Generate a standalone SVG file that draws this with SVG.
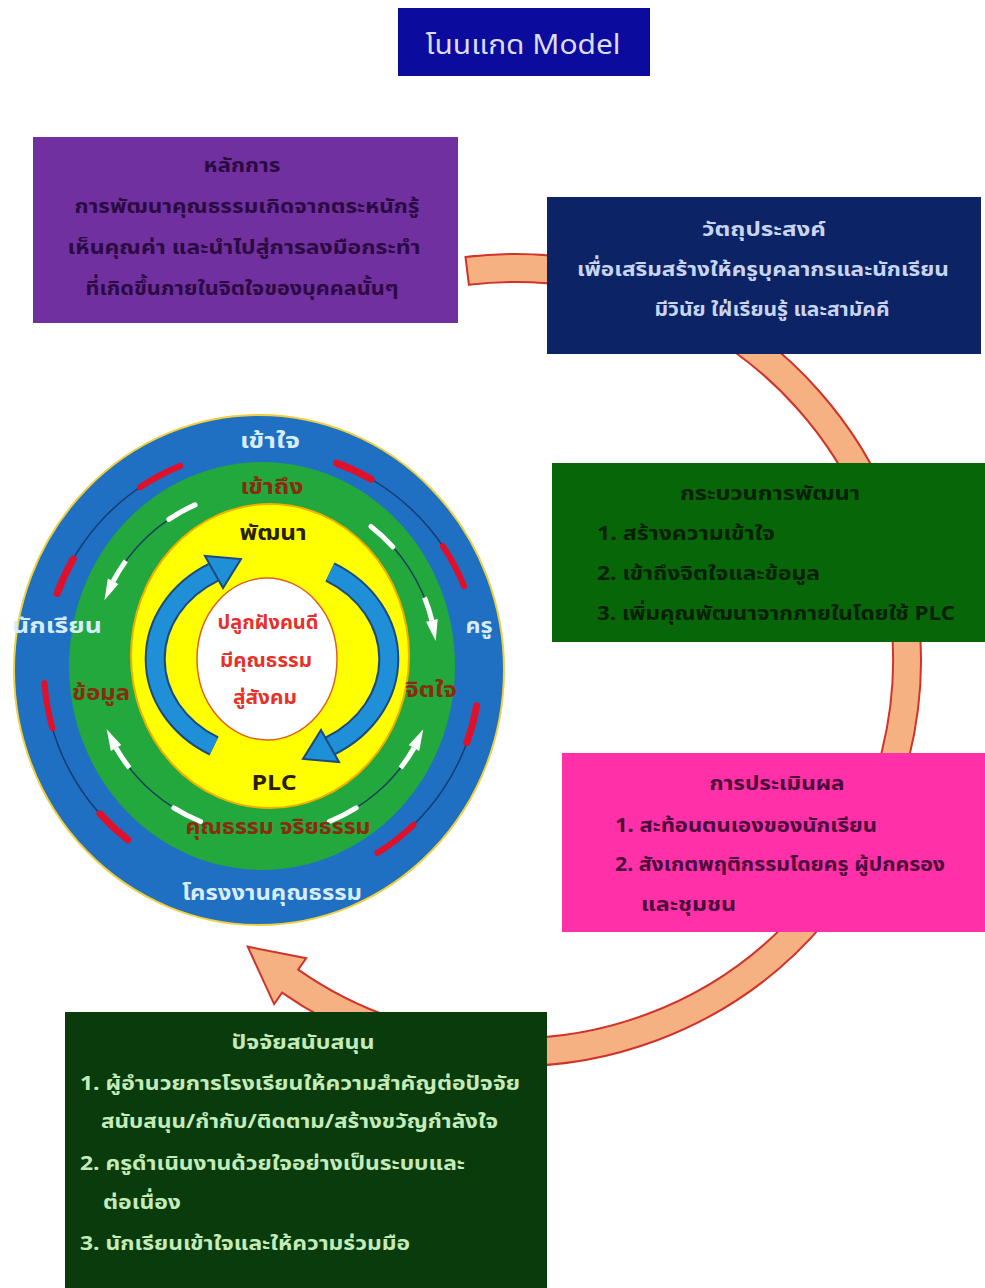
<svg xmlns="http://www.w3.org/2000/svg" width="985" height="1288" viewBox="0 0 985 1288">
<style>
text{font-family:"Noto Sans Thai","Noto Sans","DejaVu Sans",sans-serif;font-weight:bold;}
.c{text-anchor:middle;}
.bx{font-size:20px;}
.ring{font-size:22px;}
</style>
<defs>
<g id="wArrow">
<path d="M172,0 A172,172 0 0 1 135.5,105.9" fill="none" stroke="#17405a" stroke-width="1.5"/>
<path d="M172,0 A172,172 0 0 1 169.4,29.9" fill="none" stroke="#ffffff" stroke-width="5" stroke-linecap="round"/>
<path d="M149,86 A172,172 0 0 1 135.5,105.9" fill="none" stroke="#ffffff" stroke-width="5"/>
<polygon points="130.8,102.2 140.3,109.6 121.6,121.6" fill="#ffffff"/>
</g>
<g id="rArrow">
<path d="M218,0 A218,218 0 0 1 145.9,162" fill="none" stroke="#143c70" stroke-width="1.5"/>
<path d="M218,0 A218,218 0 0 1 214.7,37.9" fill="none" stroke="#e0102a" stroke-width="7" stroke-linecap="round"/>
<path d="M176.4,128.1 A218,218 0 0 1 145.9,162" fill="none" stroke="#e0102a" stroke-width="6" stroke-linecap="round"/>
</g>
</defs>

<g id="connectors">
<path d="M465.5,257 A406,406 0 1 1 282.1,992.6 L274.1,1004.1 L247.7,946.7 L306.2,958.2 L298.2,969.6 A378,378 0 1 0 468.9,284.8 Z" fill="#f6b183" stroke="#d0332a" stroke-width="2"/>
</g>

<g id="title">
<rect x="398" y="8" width="252" height="68" fill="#0b0b9e"/>
<text x="523" y="54" class="c" style="font-size:27px;font-weight:normal" fill="#dcdcff" textLength="195" lengthAdjust="spacingAndGlyphs">โนนแกด Model</text>
</g>

<g id="principle">
<rect x="33" y="137" width="425" height="186" fill="#7030a0"/>
<g class="bx c" fill="#2a0a40">
<text x="242" y="172" textLength="77" lengthAdjust="spacingAndGlyphs">หลักการ</text>
<text x="247" y="213" textLength="345" lengthAdjust="spacingAndGlyphs">การพัฒนาคุณธรรมเกิดจากตระหนักรู้</text>
<text x="244" y="254" textLength="353" lengthAdjust="spacingAndGlyphs">เห็นคุณค่า และนำไปสู่การลงมือกระทำ</text>
<text x="242" y="295" textLength="313" lengthAdjust="spacingAndGlyphs">ที่เกิดขึ้นภายในจิตใจของบุคคลนั้นๆ</text>
</g>
</g>

<g id="objective">
<rect x="547" y="197" width="434" height="157" fill="#0c2466"/>
<g class="bx c" fill="#c8d4f0">
<text x="764" y="236" textLength="124" lengthAdjust="spacingAndGlyphs">วัตถุประสงค์</text>
<text x="763" y="276" textLength="372" lengthAdjust="spacingAndGlyphs">เพื่อเสริมสร้างให้ครูบุคลากรและนักเรียน</text>
<text x="772" y="316" textLength="235" lengthAdjust="spacingAndGlyphs">มีวินัย ใฝ่เรียนรู้ และสามัคคี</text>
</g>
</g>

<g id="process">
<rect x="552" y="463" width="433" height="179" fill="#076607"/>
<g class="bx" fill="#062006">
<text x="770" y="500" class="c" textLength="180" lengthAdjust="spacingAndGlyphs">กระบวนการพัฒนา</text>
<text x="597" y="540" textLength="178" lengthAdjust="spacingAndGlyphs">1. สร้างความเข้าใจ</text>
<text x="597" y="580" textLength="223" lengthAdjust="spacingAndGlyphs">2. เข้าถึงจิตใจและข้อมูล</text>
<text x="597" y="620" textLength="358" lengthAdjust="spacingAndGlyphs">3. เพิ่มคุณพัฒนาจากภายในโดยใช้ PLC</text>
</g>
</g>

<g id="evaluation">
<rect x="562" y="753" width="423" height="179" fill="#ff30a8"/>
<g class="bx" fill="#4a0a3a">
<text x="777" y="790" class="c" textLength="135" lengthAdjust="spacingAndGlyphs">การประเมินผล</text>
<text x="615" y="832" textLength="262" lengthAdjust="spacingAndGlyphs">1. สะท้อนตนเองของนักเรียน</text>
<text x="615" y="871" textLength="330" lengthAdjust="spacingAndGlyphs">2. สังเกตพฤติกรรมโดยครู ผู้ปกครอง</text>
<text x="641" y="911" textLength="95" lengthAdjust="spacingAndGlyphs">และชุมชน</text>
</g>
</g>

<g id="support">
<rect x="65" y="1012" width="482" height="276" fill="#0a3b0d"/>
<g class="bx" fill="#c4ecb8">
<text x="303" y="1049" class="c" textLength="143" lengthAdjust="spacingAndGlyphs">ปัจจัยสนับสนุน</text>
<text x="80" y="1090" textLength="440" lengthAdjust="spacingAndGlyphs">1. ผู้อำนวยการโรงเรียนให้ความสำคัญต่อปัจจัย</text>
<text x="101" y="1128" textLength="397" lengthAdjust="spacingAndGlyphs">สนับสนุน/กำกับ/ติดตาม/สร้างขวัญกำลังใจ</text>
<text x="80" y="1170" textLength="385" lengthAdjust="spacingAndGlyphs">2. ครูดำเนินงานด้วยใจอย่างเป็นระบบและ</text>
<text x="103" y="1209" textLength="78" lengthAdjust="spacingAndGlyphs">ต่อเนื่อง</text>
<text x="80" y="1250" textLength="330" lengthAdjust="spacingAndGlyphs">3. นักเรียนเข้าใจและให้ความร่วมมือ</text>
</g>
</g>

<g id="circle-model">
<ellipse cx="259" cy="670" rx="245" ry="255" fill="#1f6fc2" stroke="#f0d040" stroke-width="2"/>
<ellipse cx="262" cy="666" rx="193" ry="204" fill="#22a83c"/>
<ellipse cx="270" cy="656" rx="139" ry="152" fill="#ffff00" stroke="#f0b000" stroke-width="2"/>
<ellipse cx="267" cy="659" rx="70" ry="81" fill="#ffffff" stroke="#e06020" stroke-width="1.5"/>

<use href="#rArrow" transform="translate(262,668) rotate(200)"/>
<use href="#rArrow" transform="translate(262,668) rotate(290)"/>
<use href="#rArrow" transform="translate(262,668) rotate(128)"/>
<use href="#rArrow" transform="translate(262,668) rotate(10)"/>

<use href="#wArrow" transform="translate(265,662) rotate(-52)"/>
<use href="#wArrow" transform="translate(265,662) rotate(112)"/>
<use href="#wArrow" transform="translate(265,662) rotate(246) scale(1,-1)"/>
<use href="#wArrow" transform="translate(265,662) rotate(68) scale(1,-1)"/>

<path d="M214,746 A116,100 0 0 1 214,572" fill="none" stroke="#1a4a80" stroke-width="21"/>
<path d="M214,746 A116,100 0 0 1 214,572" fill="none" stroke="#1f8fd8" stroke-width="17"/>
<polygon points="205,556 223,588 241,559" fill="#1f8fd8" stroke="#1a4a80" stroke-width="2"/>
<path d="M330,572 A116,100 0 0 1 330,746" fill="none" stroke="#1a4a80" stroke-width="21"/>
<path d="M330,572 A116,100 0 0 1 330,746" fill="none" stroke="#1f8fd8" stroke-width="17"/>
<polygon points="339,762 321,730 303,759" fill="#1f8fd8" stroke="#1a4a80" stroke-width="2"/>

<g class="ring c" fill="#d8ecff">
<text x="270" y="448" textLength="60" lengthAdjust="spacingAndGlyphs">เข้าใจ</text>
<text x="57" y="633" textLength="90" lengthAdjust="spacingAndGlyphs">นักเรียน</text>
<text x="479" y="633" textLength="27" lengthAdjust="spacingAndGlyphs">ครู</text>
<text x="272" y="900" textLength="180" lengthAdjust="spacingAndGlyphs">โครงงานคุณธรรม</text>
</g>
<g class="ring c" fill="#8a2b0e">
<text x="272" y="494" textLength="63" lengthAdjust="spacingAndGlyphs">เข้าถึง</text>
<text x="101" y="700" textLength="58" lengthAdjust="spacingAndGlyphs">ข้อมูล</text>
<text x="431" y="697" textLength="52" lengthAdjust="spacingAndGlyphs">จิตใจ</text>
<text x="278" y="834" textLength="185" lengthAdjust="spacingAndGlyphs">คุณธรรม จริยธรรม</text>
</g>
<g class="ring c" fill="#2a2000">
<text x="273" y="540" textLength="67" lengthAdjust="spacingAndGlyphs">พัฒนา</text>
<text x="274" y="790" textLength="45" lengthAdjust="spacingAndGlyphs">PLC</text>
</g>
<g class="c" fill="#e8302a" style="font-size:19px">
<text x="268" y="629" textLength="101" lengthAdjust="spacingAndGlyphs">ปลูกฝังคนดี</text>
<text x="266" y="667" textLength="92" lengthAdjust="spacingAndGlyphs">มีคุณธรรม</text>
<text x="265" y="704" textLength="64" lengthAdjust="spacingAndGlyphs">สู่สังคม</text>
</g>
</g>
</svg>
